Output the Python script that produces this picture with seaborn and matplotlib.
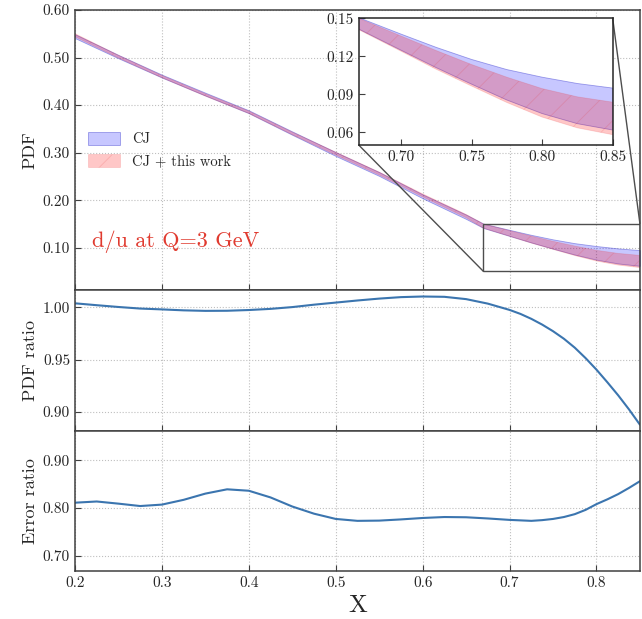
import numpy as np
import pandas as pd
import matplotlib
matplotlib.use("Agg")
import matplotlib.pyplot as plt
import seaborn as sns
from mpl_toolkits.axes_grid1.inset_locator import mark_inset

# PDF bands for d/u
x_band = [0.20, 0.25, 0.30, 0.35, 0.40, 0.45, 0.50, 0.55, 0.60, 0.65,
          0.67, 0.70, 0.725, 0.75, 0.775, 0.80, 0.825, 0.85]
cj_hi = [0.549, 0.5055, 0.464, 0.426, 0.389, 0.3445, 0.301, 0.259, 0.212, 0.1695,
         0.1505, 0.1375, 0.127, 0.1175, 0.1095, 0.1035, 0.0985, 0.0949]
cj_lo = [0.541, 0.4985, 0.458, 0.420, 0.383, 0.3375, 0.293, 0.251, 0.204, 0.1605,
         0.1415, 0.1248, 0.111, 0.098, 0.0855, 0.0748, 0.0668, 0.0618]
new_hi = [0.5503, 0.5048, 0.4624, 0.424, 0.3875, 0.3432, 0.3011, 0.2591, 0.2131, 0.170,
          0.150, 0.136, 0.1245, 0.1135, 0.1035, 0.0945, 0.0880, 0.0838]
new_lo = [0.5437, 0.4992, 0.4576, 0.419, 0.3825, 0.3378, 0.2949, 0.2529, 0.2069, 0.163,
          0.141, 0.124, 0.1097, 0.0965, 0.0835, 0.0720, 0.0635, 0.0581]

# ratio panels
x_ratio = [0.200, 0.225, 0.250, 0.275, 0.300, 0.325, 0.350, 0.375, 0.400, 0.425,
           0.450, 0.475, 0.500, 0.525, 0.550, 0.575, 0.600, 0.625, 0.650, 0.675,
           0.700, 0.7125, 0.725, 0.7375, 0.750, 0.7625, 0.775, 0.7875, 0.800,
           0.8125, 0.825, 0.8375, 0.850]
pdf_ratio = [1.0038, 1.0020, 1.0003, 0.9988, 0.9980, 0.9971, 0.9966, 0.9967, 0.9974, 0.9985,
             1.0002, 1.0025, 1.0045, 1.0065, 1.0083, 1.0097, 1.0103, 1.0100, 1.0078, 1.0035,
             0.9975, 0.9937, 0.9890, 0.9835, 0.9772, 0.9700, 0.9615, 0.9515, 0.9405,
             0.9285, 0.9160, 0.9025, 0.8880]
err_ratio = [0.811, 0.8135, 0.809, 0.804, 0.807, 0.817, 0.830, 0.839, 0.836, 0.822,
             0.803, 0.788, 0.777, 0.773, 0.7735, 0.776, 0.779, 0.781, 0.7805, 0.778,
             0.775, 0.774, 0.773, 0.7745, 0.777, 0.781, 0.787, 0.796, 0.808,
             0.818, 0.829, 0.842, 0.856]

sns.set_style("ticks")
plt.rcParams['font.family'] = ['cmr10', 'DejaVu Serif']
plt.rcParams['mathtext.fontset'] = 'cm'
plt.rcParams['axes.formatter.use_mathtext'] = True
plt.rcParams['axes.unicode_minus'] = False
plt.rcParams['hatch.linewidth'] = 0.6

blue_fc = (0.0, 0.0, 1.0, 0.22)
red_fc = (1.0, 0.0, 0.0, 0.22)
blue_ec = (0.2, 0.2, 0.8, 0.45)
red_ec = (0.9, 0.2, 0.2, 0.18)
line_col = '#3b75af'
spine_col = '0.25'

fig = plt.figure(figsize=(6.42, 6.19), dpi=100)
ax1 = fig.add_axes([0.1168, 0.5315, 0.880, 0.4523])
ax2 = fig.add_axes([0.1168, 0.3037, 0.880, 0.2278], sharex=ax1)
ax3 = fig.add_axes([0.1168, 0.0775, 0.880, 0.2262], sharex=ax1)


def style(ax):
    ax.grid(True, linestyle=':', color='0.75', linewidth=0.8)
    ax.tick_params(direction='in', labelsize=11, color=spine_col, length=4)
    for s in ax.spines.values():
        s.set_color(spine_col)
        s.set_linewidth(1.1)


# top panel: bands
ax1.fill_between(x_band, cj_lo, cj_hi, facecolor=blue_fc, edgecolor=blue_ec,
                 linewidth=0.6, label='CJ')
ax1.fill_between(x_band, new_lo, new_hi, facecolor=red_fc, edgecolor=red_ec,
                 hatch='/', linewidth=0.6, label='CJ + this work')
ax1.set_xlim(0.2, 0.85)
ax1.set_ylim(0.011, 0.60)
ax1.set_yticks([0.10, 0.20, 0.30, 0.40, 0.50, 0.60])
ax1.yaxis.set_major_formatter(matplotlib.ticker.FormatStrFormatter('%.2f'))
ax1.set_ylabel('PDF', fontsize=13)
ax1.text(0.22, 0.112, 'd/u at Q=3 GeV', color='#e03a2f', fontsize=16, va='center')
leg = ax1.legend(loc='center left', bbox_to_anchor=(0.0, 0.5), frameon=False, fontsize=10.5,
                 handlelength=2.2, handleheight=1.0)
style(ax1)
ax1.tick_params(labelbottom=False)

# inset
axins = fig.add_axes([0.5587, 0.7658, 0.3956, 0.2047])
axins.fill_between(x_band, cj_lo, cj_hi, facecolor=blue_fc, edgecolor=blue_ec,
                   linewidth=0.6)
axins.fill_between(x_band, new_lo, new_hi, facecolor=red_fc, edgecolor=red_ec,
                   hatch='/', linewidth=0.6)
axins.set_xlim(0.67, 0.85)
axins.set_ylim(0.05, 0.15)
axins.set_xticks([0.70, 0.75, 0.80, 0.85])
axins.set_yticks([0.06, 0.09, 0.12, 0.15])
axins.xaxis.set_major_formatter(matplotlib.ticker.FormatStrFormatter('%.2f'))
axins.yaxis.set_major_formatter(matplotlib.ticker.FormatStrFormatter('%.2f'))
axins.tick_params(direction='in', labelsize=11, color=spine_col, length=4)
for s in axins.spines.values():
    s.set_color('0.15')
    s.set_linewidth(1.1)
axins.set_facecolor('white')
mark_inset(ax1, axins, loc1=1, loc2=3, fc='none', ec='0.3', lw=1.0)

# middle panel: PDF ratio
df = pd.DataFrame({'x': x_ratio, 'pdf': pdf_ratio, 'err': err_ratio})
sns.lineplot(data=df, x='x', y='pdf', ax=ax2, color=line_col, linewidth=1.5)
ax2.set_ylim(0.882, 1.0165)
ax2.set_yticks([0.90, 0.95, 1.00])
ax2.yaxis.set_major_formatter(matplotlib.ticker.FormatStrFormatter('%.2f'))
ax2.set_ylabel('PDF ratio', fontsize=13)
ax2.set_xlabel('')
style(ax2)
ax2.tick_params(labelbottom=False)

# bottom panel: error ratio
sns.lineplot(data=df, x='x', y='err', ax=ax3, color=line_col, linewidth=1.5)
ax3.set_ylim(0.668, 0.961)
ax3.set_yticks([0.70, 0.80, 0.90])
ax3.yaxis.set_major_formatter(matplotlib.ticker.FormatStrFormatter('%.2f'))
ax3.set_xticks([0.2, 0.3, 0.4, 0.5, 0.6, 0.7, 0.8])
ax3.xaxis.set_major_formatter(matplotlib.ticker.FormatStrFormatter('%.1f'))
ax3.set_ylabel('Error ratio', fontsize=13)
ax3.set_xlabel('X', fontsize=18)
style(ax3)
ax3.set_xlim(0.2, 0.85)

for ax in (ax1, ax2, ax3):
    ax.yaxis.set_label_coords(-0.066, 0.5)

fig.savefig('out.png', dpi=100)
